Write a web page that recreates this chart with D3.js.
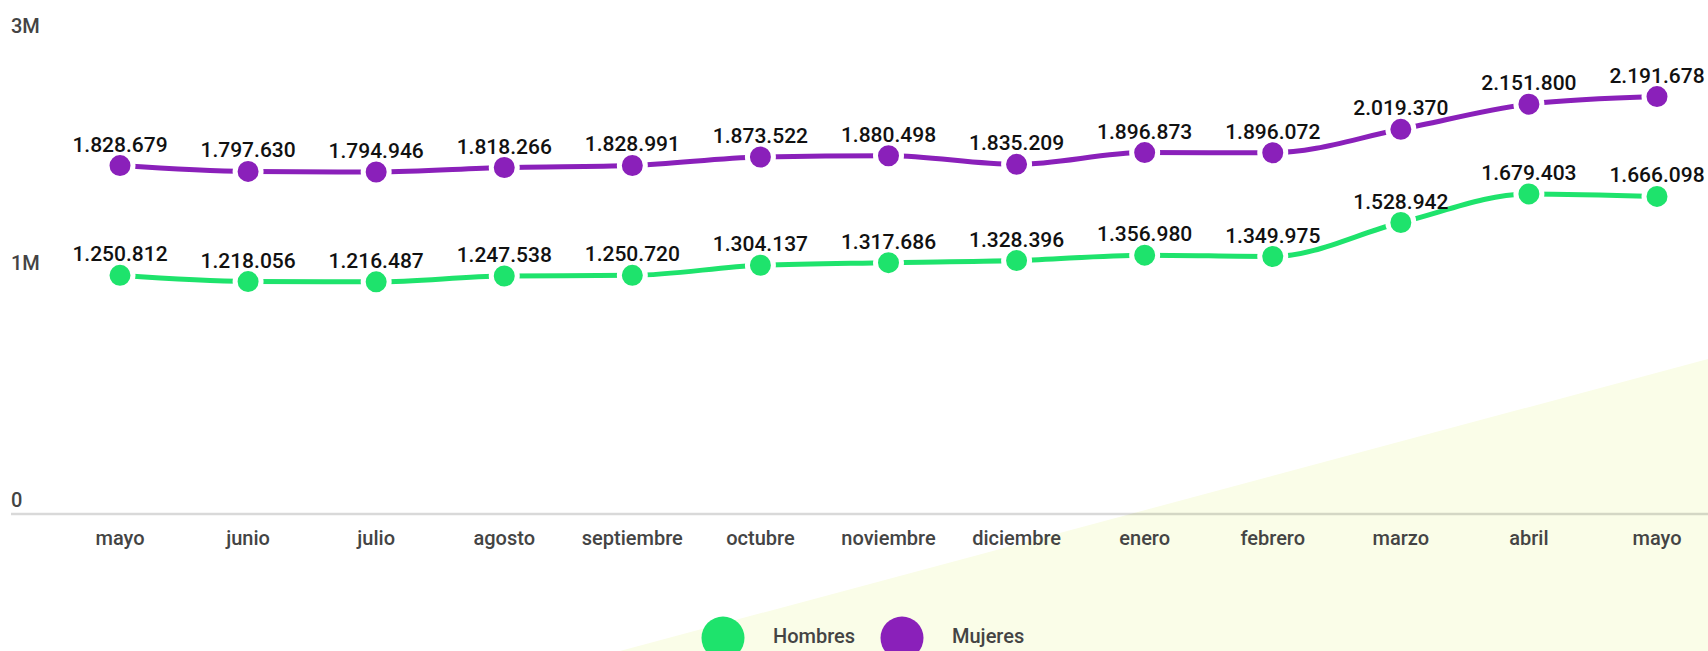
<!DOCTYPE html>
<html>
<head>
<meta charset="utf-8">
<script src="https://cdn.jsdelivr.net/npm/d3@7"></script>
<style>
  html, body { margin: 0; padding: 0; background: #fff; }
  svg { display: block; font-family: Roboto, "Noto Sans", sans-serif; }
</style>
</head>
<body>
<div id="chart"></div>
<script>
const width = 1708;
const height = 651;

const months = ["mayo", "junio", "julio", "agosto", "septiembre", "octubre", "noviembre",
  "diciembre", "enero", "febrero", "marzo", "abril", "mayo"];
const hombres = [1250812, 1218056, 1216487, 1247538, 1250720, 1304137, 1317686,
  1328396, 1356980, 1349975, 1528942, 1679403, 1666098];
const mujeres = [1828679, 1797630, 1794946, 1818266, 1828991, 1873522, 1880498,
  1835209, 1896873, 1896072, 2019370, 2151800, 2191678];
const yTickLabels = ["0", "1M", "3M"];
const seriesNames = ["Hombres", "Mujeres"];
const seriesColors = ["#1ee36c", "#8a20ba"];

const series = [
  { name: seriesNames[0], color: seriesColors[0], values: hombres },
  { name: seriesNames[1], color: seriesColors[1], values: mujeres }
];

const fmt = v => d3.format(",")(v).replace(/,/g, ".");

const svg = d3.select("#chart").append("svg")
  .attr("width", width)
  .attr("height", height);

// pale background wedge
svg.append("polygon")
  .attr("points", `620,${height} ${width},359 ${width},${height}`)
  .attr("fill", "#fafde8");

const x = d3.scalePoint()
  .domain(d3.range(months.length))
  .range([120, 1657]);

const y = d3.scaleLinear()
  .domain([0, 3000000])
  .range([513, -57]);

// y labels sit evenly spaced
const yLab = d3.scalePoint()
  .domain(yTickLabels)
  .range([507, 33]);

svg.append("g")
  .selectAll("text")
  .data(yTickLabels)
  .join("text")
  .attr("x", 11)
  .attr("y", d => yLab(d))
  .attr("fill", "#444")
  .style("font-size", "20px")
  .style("font-weight", 500)
  .text(d => d);

// baseline
svg.append("line")
  .attr("x1", 11)
  .attr("x2", width)
  .attr("y1", 514)
  .attr("y2", 514)
  .attr("stroke", "rgba(0,0,0,0.15)")
  .attr("stroke-width", 2.5);

svg.append("g")
  .selectAll("text")
  .data(months)
  .join("text")
  .attr("x", (d, i) => x(i))
  .attr("y", 545)
  .attr("text-anchor", "middle")
  .attr("fill", "#444")
  .style("font-size", "20px")
  .style("font-weight", 500)
  .text(d => d);

const line = d3.line()
  .x((d, i) => x(i))
  .y(d => y(d))
  .curve(d3.curveMonotoneX);

series.forEach(s => {
  const g = svg.append("g");

  g.append("path")
    .attr("d", line(s.values))
    .attr("fill", "none")
    .attr("stroke", s.color)
    .attr("stroke-width", 5);

  g.selectAll("circle")
    .data(s.values)
    .join("circle")
    .attr("cx", (d, i) => x(i))
    .attr("cy", d => y(d))
    .attr("r", 13)
    .attr("fill", s.color)
    .attr("stroke", "#fff")
    .attr("stroke-width", 5);

  g.selectAll("text")
    .data(s.values)
    .join("text")
    .attr("x", (d, i) => x(i))
    .attr("y", d => y(d) - 14)
    .attr("text-anchor", "middle")
    .attr("fill", "#111")
    .style("font-size", "21px")
    .style("font-weight", 500)
    .text(d => fmt(d));
});

// legend
const legend = svg.append("g");
const legendX = [723, 902];
series.forEach((s, i) => {
  legend.append("circle")
    .attr("cx", legendX[i])
    .attr("cy", 638)
    .attr("r", 21.5)
    .attr("fill", s.color);
  legend.append("text")
    .attr("x", legendX[i] + 50)
    .attr("y", 643)
    .attr("fill", "#444")
    .style("font-size", "20px")
    .style("font-weight", 500)
    .text(s.name);
});
</script>
</body>
</html>
